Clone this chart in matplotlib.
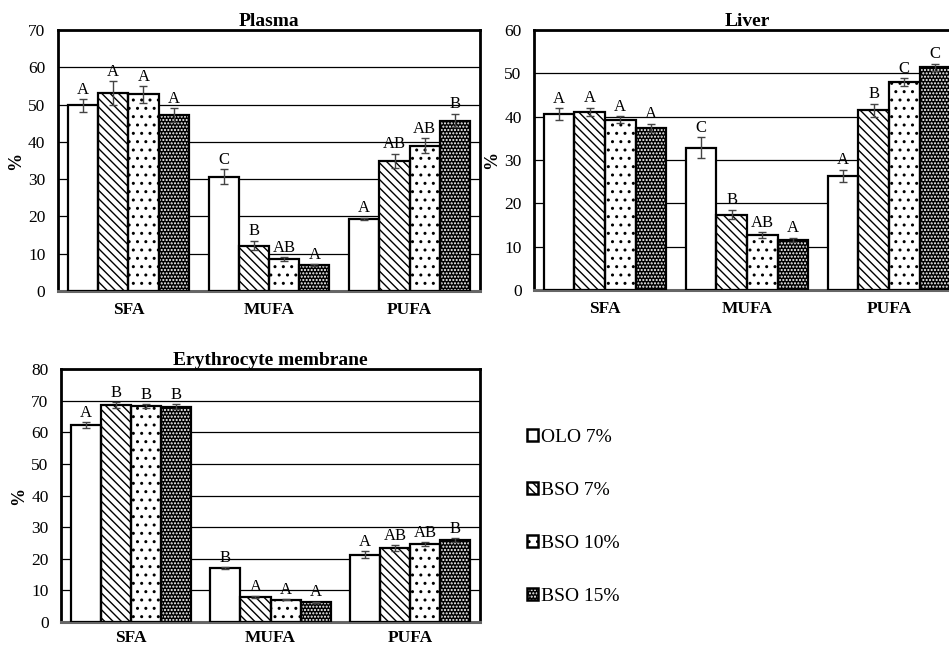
import numpy as np
import matplotlib
matplotlib.use("Agg")
import matplotlib.pyplot as plt
from matplotlib.patches import Patch

plt.rcParams['font.family'] = ['Liberation Serif', 'DejaVu Serif']
plt.rcParams['hatch.linewidth'] = 1.0

groups = ['SFA', 'MUFA', 'PUFA']
series = ['OLO 7%', 'BSO 7%', 'BSO 10%', 'BSO 15%']

# rows = series (OLO 7%, BSO 7%, BSO 10%, BSO 15%), columns = SFA, MUFA, PUFA
plasma_mean = [[49.8, 30.7, 19.4],
               [53.0, 12.2, 34.9],
               [52.7, 8.6, 39.0],
               [47.2, 7.0, 45.7]]
plasma_err = [[1.7, 1.9, 0.3],
              [3.2, 1.3, 1.9],
              [2.2, 0.5, 2.0],
              [1.8, 0.2, 1.8]]
plasma_letters = [['A', 'C', 'A'],
                  ['A', 'B', 'AB'],
                  ['A', 'AB', 'AB'],
                  ['A', 'A', 'B']]

liver_mean = [[40.6, 32.8, 26.4],
              [41.1, 17.4, 41.5],
              [39.3, 12.7, 48.0],
              [37.4, 11.6, 51.4]]
liver_err = [[1.3, 2.4, 1.4],
             [1.0, 1.1, 1.5],
             [0.8, 0.6, 0.9],
             [1.0, 0.45, 0.8]]
liver_letters = [['A', 'C', 'A'],
                 ['A', 'B', 'B'],
                 ['A', 'AB', 'C'],
                 ['A', 'A', 'C']]

ery_mean = [[62.2, 17.0, 21.3],
            [68.6, 7.9, 23.4],
            [68.2, 7.1, 24.7],
            [68.0, 6.2, 25.9]]
ery_err = [[1.0, 0.3, 1.0],
           [1.0, 0.3, 0.8],
           [0.6, 0.2, 0.6],
           [0.8, 0.2, 0.6]]
ery_letters = [['A', 'B', 'A'],
               ['B', 'A', 'AB'],
               ['B', 'A', 'AB'],
               ['B', 'A', 'B']]

# bar styles: (facecolor, hatch colour, hatch)
styles = [('white', 'black', None),
          ('white', 'black', '\\\\\\\\'),
          ('white', 'black', '..'),
          ('black', 'white', '.....')]

width = 0.215
x = np.arange(len(groups))


def panel(ax, means, errs, letters, title, ymax, step):
    for i in range(len(series)):
        xs = x + (i - 1.5) * width
        face, hcol, hatch = styles[i]
        ax.bar(xs, means[i], width, color=face, edgecolor=hcol, hatch=hatch,
               linewidth=0, zorder=2)
        ax.bar(xs, means[i], width, color='none', edgecolor='black',
               linewidth=1.6, zorder=3)
        ax.errorbar(xs, means[i], yerr=errs[i], fmt='none', ecolor='#444444',
                    elinewidth=1, capsize=3, capthick=1, zorder=4)
        for j in range(len(groups)):
            ax.annotate(letters[i][j], (xs[j], means[i][j] + errs[i][j]),
                        xytext=(0, 1), textcoords='offset points',
                        ha='center', va='bottom', fontsize=12)
    ax.set_xlim(-0.5, 2.5)
    ax.set_ylim(0, ymax)
    ax.set_yticks(np.arange(0, ymax + 1, step))
    ax.set_xticks(x)
    ax.set_xticklabels(groups, fontweight='bold', fontsize=13)
    ax.tick_params(axis='both', length=0, labelsize=12.5)
    ax.tick_params(axis='x', pad=8)
    ax.tick_params(axis='y', pad=9)
    ax.yaxis.grid(True, color='black', linewidth=0.9)
    ax.set_axisbelow(True)
    for s in ['top', 'left', 'right']:
        ax.spines[s].set_linewidth(2)
        ax.spines[s].set_color('black')
    ax.spines['bottom'].set_linewidth(2.2)
    ax.spines['bottom'].set_color('#666666')
    ax.set_ylabel('%', fontweight='bold', fontsize=13, labelpad=3)
    ax.set_title(title, fontweight='bold', fontsize=14, pad=3)


fig = plt.figure(figsize=(9.49, 6.49), dpi=100)
ax1 = fig.add_axes([0.0611, 0.5516, 0.4447, 0.4022])
ax2 = fig.add_axes([0.5627, 0.5532, 0.4489, 0.4006])
ax3 = fig.add_axes([0.0643, 0.0416, 0.4415, 0.3898])

panel(ax1, plasma_mean, plasma_err, plasma_letters, 'Plasma', 70, 10)
panel(ax2, liver_mean, liver_err, liver_letters, 'Liver', 60, 10)
panel(ax3, ery_mean, ery_err, ery_letters, 'Erythrocyte membrane', 80, 10)
ax3.tick_params(axis='x', pad=6)

handles = []
for i in range(len(series)):
    face, hcol, hatch = styles[i]
    handles.append((Patch(facecolor=face, edgecolor=hcol, hatch=hatch, linewidth=0),
                    Patch(facecolor='none', edgecolor='black', linewidth=1.8)))
fig.legend(handles, series, loc='center left', bbox_to_anchor=(0.555, 0.2034),
           frameon=False, fontsize=14, handlelength=0.6, handleheight=0.6,
           handletextpad=0.15, labelspacing=1.85, borderpad=0, borderaxespad=0)

fig.savefig('out.png', dpi=100)
